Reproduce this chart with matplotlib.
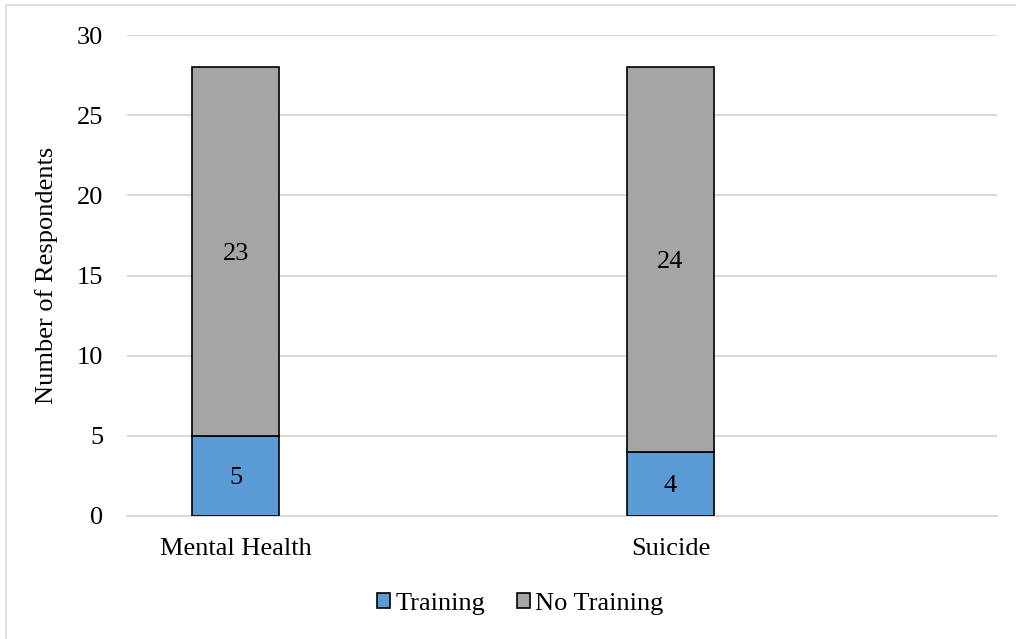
import matplotlib
matplotlib.use('Agg')
import matplotlib.pyplot as plt
from matplotlib.patches import Rectangle, Patch

categories = ["Mental Health", "Suicide"]
training = [5, 4]
no_training = [23, 24]
yticks = [0, 5, 10, 15, 20, 25, 30]

blue = '#5B9BD5'
grey = '#A5A5A5'
grid_c = '#D9D9D9'

plt.rcParams['font.family'] = ['Liberation Serif', 'DejaVu Serif']

fig = plt.figure(figsize=(10.16, 6.39), dpi=100)
ax = fig.add_axes([0.125, 0.1925, 0.856, 0.7527])

x = list(range(len(categories)))
ax.bar(x, training, width=0.2, color=blue, edgecolor='black', linewidth=1.2, zorder=3)
ax.bar(x, no_training, width=0.2, bottom=training, color=grey,
       edgecolor='black', linewidth=1.2, zorder=3)

# value labels centred in each segment
for i in x:
    ax.text(i, training[i] / 2, str(training[i]), ha='center', va='center_baseline',
            fontsize=19, zorder=4)
    ax.text(i, training[i] + no_training[i] / 2, str(no_training[i]),
            ha='center', va='center_baseline', fontsize=19, zorder=4)

ax.set_xlim(-0.25, 1.75)
ax.set_ylim(0, 30)
ax.set_yticks(yticks)
ax.yaxis.grid(True, color=grid_c, linewidth=1.5, zorder=0)
ax.set_xticks(x)
ax.set_xticklabels(categories)
ax.tick_params(axis='both', length=0, labelsize=19, colors='black')
ax.tick_params(axis='y', pad=17)
ax.tick_params(axis='x', pad=16)
for s in ['top', 'right', 'left']:
    ax.spines[s].set_visible(False)
ax.spines['bottom'].set_color(grid_c)
ax.spines['bottom'].set_linewidth(1.5)
ax.set_ylabel('Number of Respondents', fontsize=19, labelpad=14)

handles = [Patch(facecolor=blue, edgecolor='black', linewidth=1.2, label='Training'),
           Patch(facecolor=grey, edgecolor='black', linewidth=1.2, label='No Training')]
fig.legend(handles=handles, loc='center', bbox_to_anchor=(0.512, 0.055), ncol=2,
           frameon=False, fontsize=19, handlelength=0.5, handleheight=0.5,
           handletextpad=0.2, columnspacing=1.2)

# thin outer frame of the chart area
fig.patches.append(Rectangle((6 / 1016, -0.1), 1.2, 1.1 - 5 / 639, transform=fig.transFigure,
                             fill=False, edgecolor='#D9D9D9', linewidth=1.2))

fig.savefig('out.png', dpi=100)
